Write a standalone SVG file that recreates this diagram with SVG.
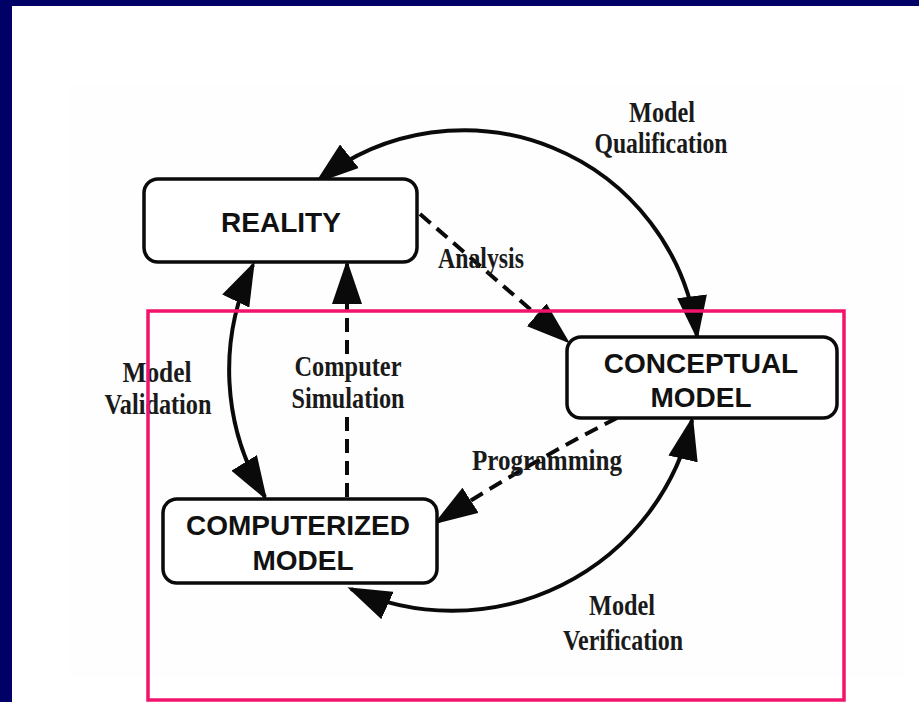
<svg xmlns="http://www.w3.org/2000/svg" width="919" height="702" viewBox="0 0 919 702">
<defs>
<style>
.box{fill:#ffffff;stroke:#0a0a0a;stroke-width:3.5}
.nt{font-family:"Liberation Sans",Arial,sans-serif;font-weight:bold;font-size:28px;fill:#111;text-anchor:middle}
.lb{font-family:"Liberation Serif","Times New Roman",serif;font-weight:bold;font-size:30px;fill:#1a1a1a;text-anchor:middle}
.arc{fill:none;stroke:#0a0a0a;stroke-width:4}
.dash{fill:none;stroke:#0a0a0a;stroke-width:4;stroke-dasharray:14 8}
</style>
<marker id="ah" markerUnits="userSpaceOnUse" markerWidth="44" markerHeight="30" viewBox="0 0 44 30" refX="40" refY="15" orient="auto-start-reverse">
<path d="M0,0 L44,15 L0,30 z" fill="#0a0a0a"/>
</marker>
</defs>
<rect x="0" y="0" width="919" height="702" fill="#ffffff"/>
<rect x="68" y="85" width="837" height="592" fill="#fefefe"/>
<rect x="0" y="0" width="919" height="6" fill="#000066"/>
<rect x="0" y="0" width="12" height="702" fill="#000066"/>

<g id="connectors">
<path class="arc" d="M318,181 A235,235 0 0 1 697,336" marker-start="url(#ah)" marker-end="url(#ah)"/>
<path class="arc" d="M253,265 A243,243 0 0 0 265,497" marker-start="url(#ah)" marker-end="url(#ah)"/>
<path class="arc" d="M351,589 A246,246 0 0 0 692,420" marker-start="url(#ah)" marker-end="url(#ah)"/>
<path class="dash" d="M420,214 L567,341" marker-end="url(#ah)"/>
<path class="dash" d="M617,418 Q530,462 437,522" marker-end="url(#ah)"/>
<path class="dash" d="M347,497 V416 M347,354 V264" marker-end="url(#ah)"/>
</g>

<g id="reality">
<rect class="box" x="144" y="179" width="273" height="83" rx="14"/>
<text class="nt" x="281" y="232">REALITY</text>
</g>
<g id="conceptual-model">
<rect class="box" x="567" y="337" width="270" height="81" rx="14"/>
<text class="nt" x="701" y="373">CONCEPTUAL</text>
<text class="nt" x="701" y="407">MODEL</text>
</g>
<g id="computerized-model">
<rect class="box" x="163" y="499" width="274" height="84" rx="14"/>
<text class="nt" x="298" y="535">COMPUTERIZED</text>
<text class="nt" x="303" y="570">MODEL</text>
</g>

<g id="labels">
<text class="lb" x="662" y="122" textLength="66" lengthAdjust="spacingAndGlyphs">Model</text>
<text class="lb" x="661" y="153" textLength="133" lengthAdjust="spacingAndGlyphs">Qualification</text>
<text class="lb" x="481" y="268" textLength="86" lengthAdjust="spacingAndGlyphs">Analysis</text>
<text class="lb" x="348" y="376" textLength="107" lengthAdjust="spacingAndGlyphs">Computer</text>
<text class="lb" x="348" y="408" textLength="113" lengthAdjust="spacingAndGlyphs">Simulation</text>
<text class="lb" x="157" y="382" textLength="69" lengthAdjust="spacingAndGlyphs">Model</text>
<text class="lb" x="158" y="414" textLength="107" lengthAdjust="spacingAndGlyphs">Validation</text>
<text class="lb" x="547" y="470" textLength="150" lengthAdjust="spacingAndGlyphs">Programming</text>
<text class="lb" x="622" y="615" textLength="66" lengthAdjust="spacingAndGlyphs">Model</text>
<text class="lb" x="623" y="650" textLength="120" lengthAdjust="spacingAndGlyphs">Verification</text>
</g>

<rect x="148" y="311" width="696" height="389" fill="none" stroke="#f2146c" stroke-width="3.5"/>
</svg>
